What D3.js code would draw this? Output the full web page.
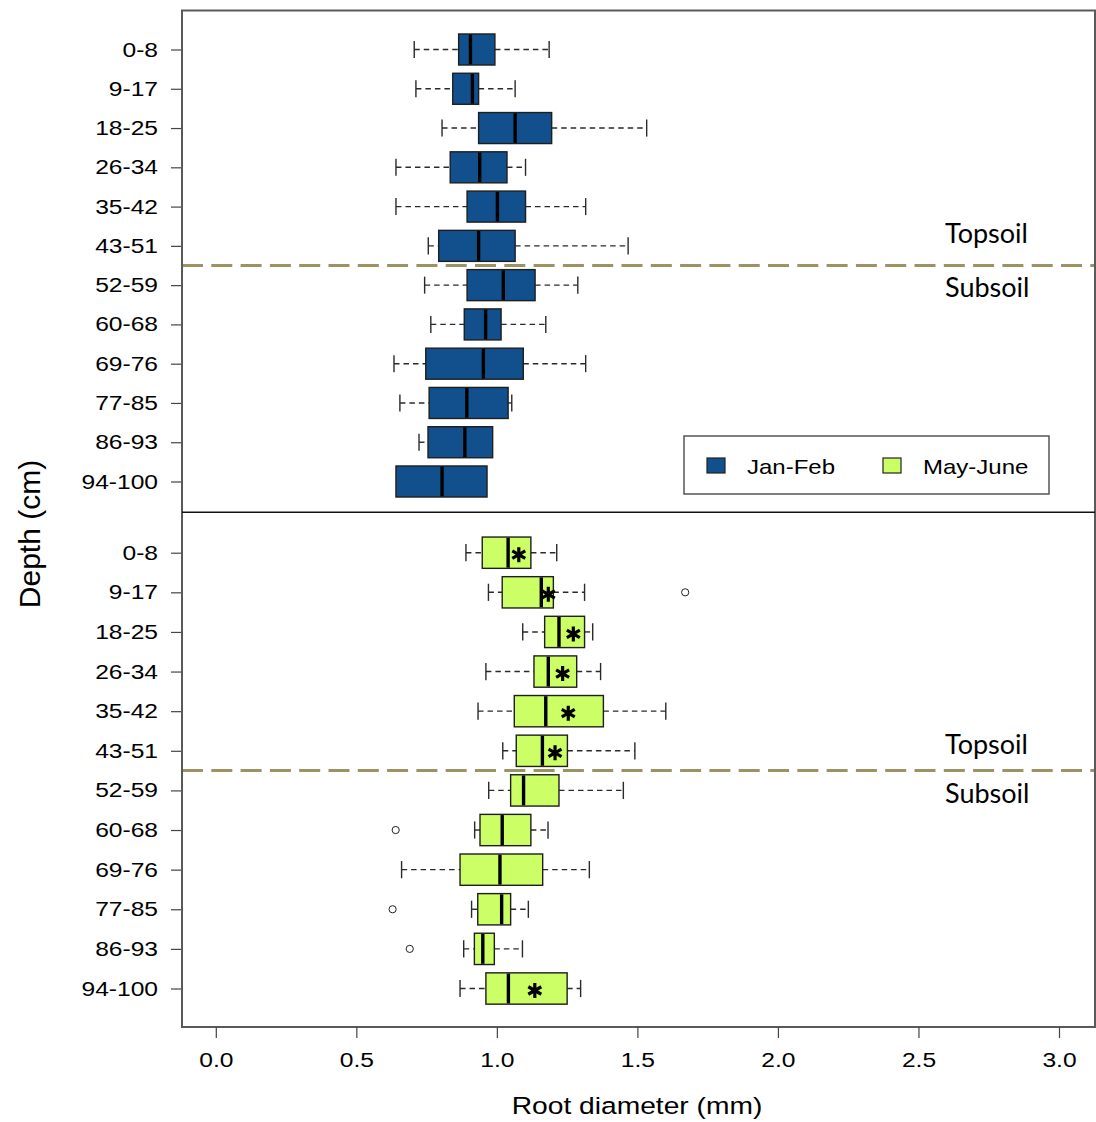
<!DOCTYPE html>
<html>
<head>
<meta charset="utf-8">
<script src="https://cdn.jsdelivr.net/npm/d3@7"></script>
<style>
  body { margin: 0; background: #fff; }
  svg text { font-family: "Liberation Sans", Arial, sans-serif; fill: #000; }
</style>
</head>
<body>
<svg id="chart" width="1096" height="1122"></svg>
<script>
// Depth classes (cm), top to bottom
const depthLabels = ["0-8", "9-17", "18-25", "26-34", "35-42", "43-51",
                     "52-59", "60-68", "69-76", "77-85", "86-93", "94-100"];

// Jan-Feb root diameter (mm): whisker ends, quartiles, median
const jfLow    = [0.706, 0.712, 0.805, 0.641, 0.641, 0.756, 0.743, 0.765, 0.634, 0.655, 0.723, 0.641];
const jfQ1     = [0.864, 0.843, 0.935, 0.834, 0.894, 0.793, 0.894, 0.884, 0.747, 0.759, 0.755, 0.641];
const jfMedian = [0.906, 0.913, 1.065, 0.939, 1.002, 0.935, 1.023, 0.960, 0.952, 0.893, 0.886, 0.805];
const jfQ3     = [0.993, 0.935, 1.195, 1.036, 1.102, 1.065, 1.136, 1.015, 1.094, 1.040, 0.985, 0.965];
const jfHigh   = [1.186, 1.065, 1.533, 1.102, 1.316, 1.467, 1.288, 1.174, 1.316, 1.053, 0.985, 0.965];

// May-June root diameter (mm)
const mjLow    = [0.890, 0.970, 1.092, 0.961, 0.933, 1.021, 0.971, 0.921, 0.661, 0.910, 0.882, 0.869];
const mjQ1     = [0.948, 1.019, 1.170, 1.132, 1.062, 1.069, 1.049, 0.940, 0.869, 0.932, 0.920, 0.961];
const mjMedian = [1.040, 1.158, 1.221, 1.183, 1.174, 1.162, 1.095, 1.019, 1.011, 1.017, 0.950, 1.041];
const mjQ3     = [1.121, 1.201, 1.312, 1.284, 1.379, 1.251, 1.221, 1.121, 1.163, 1.049, 0.991, 1.250];
const mjHigh   = [1.213, 1.312, 1.341, 1.369, 1.601, 1.491, 1.450, 1.182, 1.329, 1.112, 1.091, 1.298];

// May-June outliers [depth, value]
const mjOutlierDepth = ["9-17", "60-68", "77-85", "86-93"];
const mjOutlierValue = [1.670, 0.640, 0.629, 0.690];

// Significant differences between seasons, marked with an asterisk [depth, position]
const mjSigDepth = ["0-8", "9-17", "18-25", "26-34", "35-42", "43-51", "94-100"];
const mjSigValue = [1.078, 1.183, 1.272, 1.234, 1.254, 1.207, 1.135];

const xTicks = [0, 0.5, 1.0, 1.5, 2.0, 2.5, 3.0];
const seriesNames = ["Jan-Feb", "May-June"];
const seriesColors = ["#11508d", "#ccff66"];

// ---------------------------------------------------------------
const svg = d3.select("#chart");
const frame = { left: 182, right: 1095, top: 10.5, mid: 512.3, bottom: 1027 };
const stretch = 1.2; // horizontal widening of label glyphs

const x = d3.scaleLinear().domain([0, 3]).range([215.8, 1059]);

const panels = [
  { name: seriesNames[0], color: seriesColors[0], top: frame.top, bottom: frame.mid,
    rows: [49.5, 481.5], low: jfLow, q1: jfQ1, med: jfMedian, q3: jfQ3, high: jfHigh,
    outD: [], outV: [], sigD: [], sigV: [],
    topLabelY: 243, subLabelY: 297 },
  { name: seriesNames[1], color: seriesColors[1], top: frame.mid, bottom: frame.bottom,
    rows: [552.7, 988.5], low: mjLow, q1: mjQ1, med: mjMedian, q3: mjQ3, high: mjHigh,
    outD: mjOutlierDepth, outV: mjOutlierValue, sigD: mjSigDepth, sigV: mjSigValue,
    topLabelY: 754, subLabelY: 803 }
];

panels.forEach(p => {
  const y = d3.scalePoint().domain(depthLabels).range(p.rows);
  const step = (p.rows[1] - p.rows[0]) / (depthLabels.length - 1);
  const boxH = step * 0.79;
  const capH = boxH * 0.55;
  const g = svg.append("g");

  const data = depthLabels.map((d, i) => ({
    depth: d, low: p.low[i], q1: p.q1[i], med: p.med[i], q3: p.q3[i], high: p.high[i]
  }));

  // topsoil / subsoil boundary
  const yb = (y(depthLabels[5]) + y(depthLabels[6])) / 2;
  g.append("line")
    .attr("x1", frame.left).attr("x2", frame.right)
    .attr("y1", yb).attr("y2", yb)
    .attr("stroke", "#9c9262").attr("stroke-width", 3)
    .attr("stroke-dasharray", "21,8.3");

  g.append("text").attr("x", 945).attr("y", p.topLabelY)
    .style("font-family", "Lato, 'Open Sans', sans-serif").style("font-size", "27px")
    .text("Topsoil");
  g.append("text").attr("x", 945).attr("y", p.subLabelY)
    .style("font-family", "Lato, 'Open Sans', sans-serif").style("font-size", "27px")
    .text("Subsoil");

  // whiskers
  const wh = g.append("g").attr("stroke", "#2a2a2a").attr("stroke-width", 1.4);
  data.forEach(d => {
    const cy = y(d.depth);
    if (d.low < d.q1) {
      wh.append("line").attr("x1", x(d.low)).attr("x2", x(d.q1))
        .attr("y1", cy).attr("y2", cy).attr("stroke-dasharray", "5.5,4");
      wh.append("line").attr("x1", x(d.low)).attr("x2", x(d.low))
        .attr("y1", cy - capH / 2).attr("y2", cy + capH / 2);
    }
    if (d.high > d.q3) {
      wh.append("line").attr("x1", x(d.q3)).attr("x2", x(d.high))
        .attr("y1", cy).attr("y2", cy).attr("stroke-dasharray", "5.5,4");
      wh.append("line").attr("x1", x(d.high)).attr("x2", x(d.high))
        .attr("y1", cy - capH / 2).attr("y2", cy + capH / 2);
    }
  });

  // boxes
  g.selectAll("rect.box").data(data).join("rect")
    .attr("class", "box")
    .attr("x", d => x(d.q1))
    .attr("width", d => x(d.q3) - x(d.q1))
    .attr("y", d => y(d.depth) - boxH / 2)
    .attr("height", boxH)
    .attr("fill", p.color)
    .attr("stroke", "#1e1e1e").attr("stroke-width", 1.4);

  // medians
  g.selectAll("line.med").data(data).join("line")
    .attr("class", "med")
    .attr("x1", d => x(d.med)).attr("x2", d => x(d.med))
    .attr("y1", d => y(d.depth) - boxH / 2 + 0.7)
    .attr("y2", d => y(d.depth) + boxH / 2 - 0.7)
    .attr("stroke", "#000").attr("stroke-width", 3.4);

  // outliers
  g.selectAll("circle.out").data(p.outD.map((d, i) => ({ depth: d, v: p.outV[i] }))).join("circle")
    .attr("class", "out")
    .attr("cx", d => x(d.v)).attr("cy", d => y(d.depth)).attr("r", 3.6)
    .attr("fill", "none").attr("stroke", "#222").attr("stroke-width", 1);

  // asterisks
  const r = 7.5;
  const starPath = (cx, cy) => {
    let s = "";
    [90, 30, 150].forEach(a => {
      const dx = r * Math.cos(a * Math.PI / 180), dy = r * Math.sin(a * Math.PI / 180);
      s += `M${cx - dx},${cy - dy}L${cx + dx},${cy + dy}`;
    });
    return s;
  };
  g.selectAll("path.sig").data(p.sigD.map((d, i) => ({ depth: d, v: p.sigV[i] }))).join("path")
    .attr("class", "sig")
    .attr("d", d => starPath(x(d.v), y(d.depth) + 2))
    .attr("stroke", "#000").attr("stroke-width", 3.2).attr("stroke-linecap", "butt");

  // depth axis
  const ax = g.append("g").attr("transform", `translate(${frame.left},0)`)
    .call(d3.axisLeft(y).tickSize(11).tickPadding(9));
  ax.select(".domain").remove();
  ax.selectAll(".tick line").attr("stroke", "#444").attr("stroke-width", 1.2);
  ax.selectAll(".tick text")
    .style("font-size", "20.5px").style("font-family", "'Liberation Sans', Arial, sans-serif")
    .attr("fill", "#000")
    .attr("transform", `scale(${stretch},1)`);
});

// frame and panel divider
svg.append("rect")
  .attr("x", frame.left).attr("y", frame.top)
  .attr("width", frame.right - frame.left).attr("height", frame.bottom - frame.top)
  .attr("fill", "none").attr("stroke", "#5a5a5a").attr("stroke-width", 2);
svg.append("line")
  .attr("x1", frame.left).attr("x2", frame.right)
  .attr("y1", frame.mid).attr("y2", frame.mid)
  .attr("stroke", "#111").attr("stroke-width", 1.4);

// x axis
const xa = svg.append("g").attr("transform", `translate(0,${frame.bottom})`)
  .call(d3.axisBottom(x).tickValues(xTicks).tickFormat(d3.format(".1f")).tickSize(11).tickPadding(14));
xa.select(".domain").remove();
xa.selectAll(".tick line").attr("stroke", "#444").attr("stroke-width", 1.2);
xa.selectAll(".tick text")
  .style("font-size", "20.5px").style("font-family", "'Liberation Sans', Arial, sans-serif")
  .attr("fill", "#000")
  .attr("transform", `scale(${stretch},1)`);

// axis titles
svg.append("text")
  .attr("transform", `translate(637,1114) scale(${stretch},1)`)
  .attr("text-anchor", "middle").style("font-size", "23.5px")
  .text("Root diameter (mm)");
svg.append("text")
  .attr("transform", `translate(40,534) rotate(-90)`)
  .attr("text-anchor", "middle").style("font-size", "30px")
  .text("Depth (cm)");

// legend
const lg = svg.append("g");
lg.append("rect").attr("x", 684).attr("y", 436).attr("width", 365).attr("height", 58)
  .attr("fill", "#fff").attr("stroke", "#555").attr("stroke-width", 1.5);
const legendX = [707, 883];
seriesNames.forEach((name, i) => {
  lg.append("rect").attr("x", legendX[i]).attr("y", 458).attr("width", 18).attr("height", 15)
    .attr("fill", seriesColors[i]).attr("stroke", "#222").attr("stroke-width", 1.2);
  lg.append("text")
    .attr("transform", `translate(${legendX[i] + 40},474) scale(${stretch},1)`)
    .style("font-size", "20px").text(name);
});
</script>
</body>
</html>
